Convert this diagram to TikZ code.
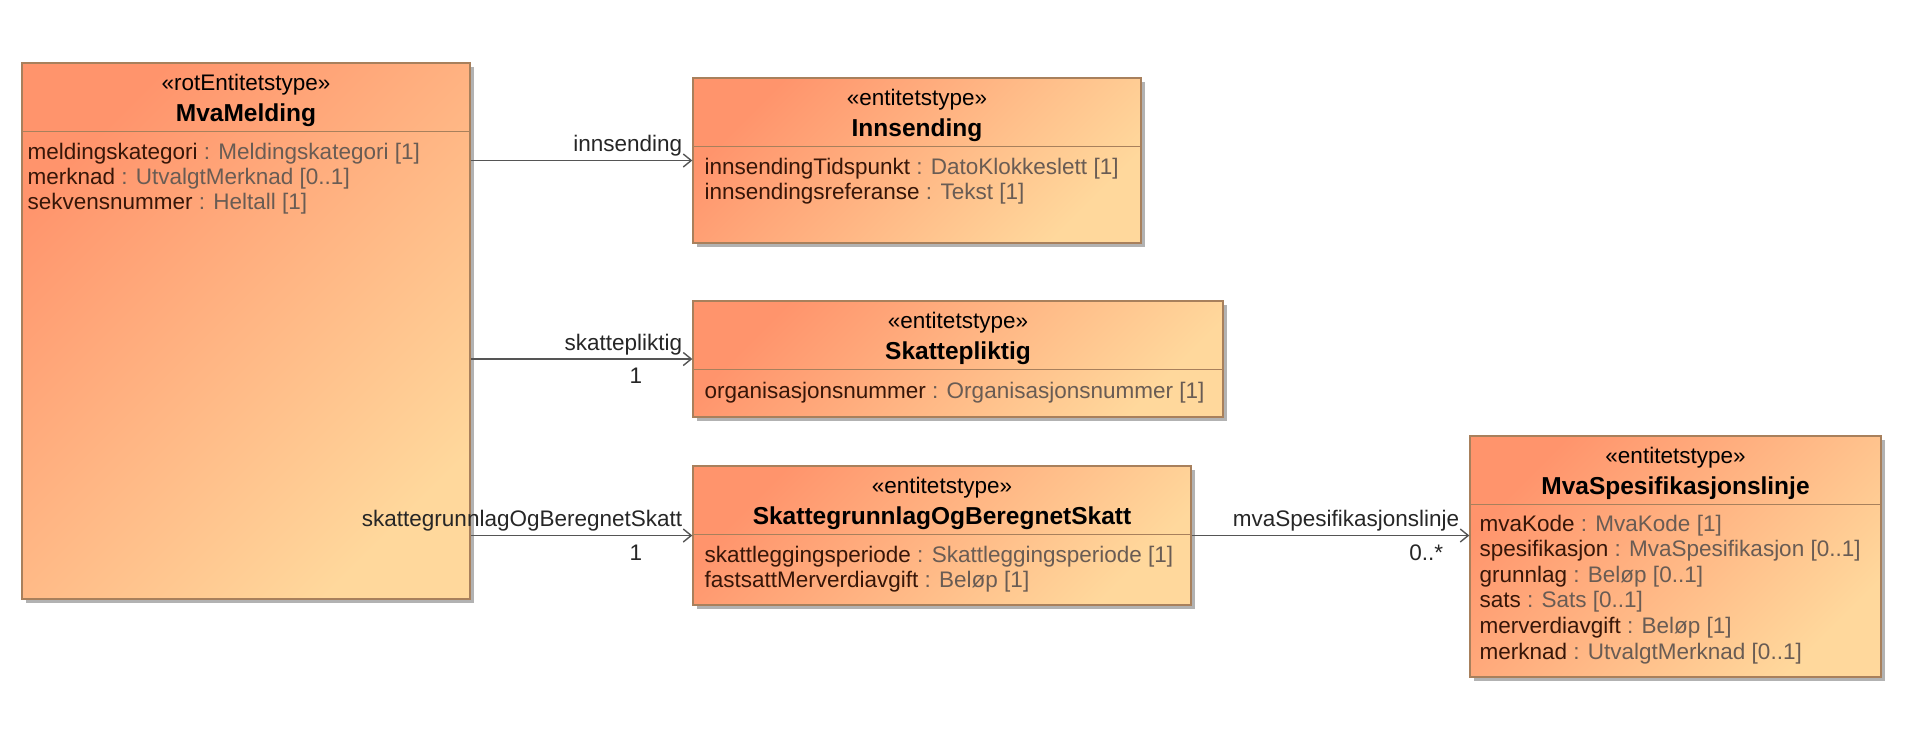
\documentclass[tikz,border=0pt]{standalone}
\usepackage{fontspec}
\setmainfont{Liberation Sans}
\usetikzlibrary{calc}
\usetikzlibrary{arrows.meta}
\usetikzlibrary{shadows}

\definecolor{boxdark}{RGB}{255,148,108}
\definecolor{boxlight}{RGB}{255,216,156}
\definecolor{boxline}{RGB}{168,128,92}
\definecolor{attrname}{RGB}{55,22,8}
\definecolor{attrtype}{RGB}{105,92,84}
\definecolor{assocline}{RGB}{85,85,85}

\begin{document}
\begin{tikzpicture}[x=1pt,y=-1pt,>={Straight Barb[length=8pt,width=13pt]},
    klasse/.style={draw=boxline,line width=1.3pt,top color=boxdark,bottom color=boxlight,shading angle=45,
      drop shadow={shadow xshift=4pt,shadow yshift=-4pt,fill=black,opacity=.3},inner sep=0pt},
    skille/.style={draw=boxline,line width=1.3pt},
    stereo/.style={inner sep=0pt,font=\fontsize{22.5}{25}\selectfont},
    navn/.style={inner sep=0pt,font=\fontsize{24.5}{27}\selectfont\bfseries},
    attr/.style={anchor=west,inner sep=0pt,text=attrname,font=\fontsize{22.5}{25}\selectfont},
    rolle/.style={inner sep=0pt,text=black!85,font=\fontsize{22.5}{25}\selectfont},
    assoc/.style={draw=assocline,line width=1.4pt,->}]

  \useasboundingbox (0,0) rectangle (1921,736);

  \node(mva) at (246,331) [klasse,minimum width=448pt,minimum height=536pt] {};
  \node(mva-st) at ($(mva.north)+(0,22)$) [stereo] {«rotEntitetstype»};
  \node(mva-nv) at ($(mva.north)+(0,53)$) [navn] {MvaMelding};
  \draw[skille] ($(mva.north west)+(0,69)$) -- ($(mva.north east)+(0,69)$);
  \foreach \n/\t [count=\i] in {meldingskategori/{Meldingskategori [1]},merknad/{UtvalgtMerknad [0..1]},sekvensnummer/{Heltall [1]}}
  {
    \node(mva-a\i) at ($(mva.north west)+(6,{69+22+25*(\i-1)})$) [attr] {\n\ \textcolor{attrtype}{: \t}};
  }

  \node(inns) at (917,160.5) [klasse,minimum width=448pt,minimum height=165pt] {};
  \node(inns-st) at ($(inns.north)+(0,22)$) [stereo] {«entitetstype»};
  \node(inns-nv) at ($(inns.north)+(0,53)$) [navn] {Innsending};
  \draw[skille] ($(inns.north west)+(0,69)$) -- ($(inns.north east)+(0,69)$);
  \foreach \n/\t [count=\i] in {innsendingTidspunkt/{DatoKlokkeslett [1]},innsendingsreferanse/{Tekst [1]}}
  {
    \node(inns-a\i) at ($(inns.north west)+(12,{69+22+25*(\i-1)})$) [attr] {\n\ \textcolor{attrtype}{: \t}};
  }

  \node(skpl) at (958,359) [klasse,minimum width=530pt,minimum height=116pt] {};
  \node(skpl-st) at ($(skpl.north)+(0,22)$) [stereo] {«entitetstype»};
  \node(skpl-nv) at ($(skpl.north)+(0,53)$) [navn] {Skattepliktig};
  \draw[skille] ($(skpl.north west)+(0,69)$) -- ($(skpl.north east)+(0,69)$);
  \node(skpl-a1) at ($(skpl.north west)+(12,92)$) [attr] {organisasjonsnummer\ \textcolor{attrtype}{: Organisasjonsnummer [1]}};

  \node(skatt) at (942,535.5) [klasse,minimum width=498pt,minimum height=139pt] {};
  \node(skatt-st) at ($(skatt.north)+(0,22)$) [stereo] {«entitetstype»};
  \node(skatt-nv) at ($(skatt.north)+(0,53)$) [navn] {SkattegrunnlagOgBeregnetSkatt};
  \draw[skille] ($(skatt.north west)+(0,69)$) -- ($(skatt.north east)+(0,69)$);
  \foreach \n/\t [count=\i] in {skattleggingsperiode/{Skattleggingsperiode [1]},fastsattMerverdiavgift/{Beløp [1]}}
  {
    \node(skatt-a\i) at ($(skatt.north west)+(12,{69+22+25*(\i-1)})$) [attr] {\n\ \textcolor{attrtype}{: \t}};
  }

  \node(spes) at (1675.5,556.5) [klasse,minimum width=411pt,minimum height=241pt] {};
  \node(spes-st) at ($(spes.north)+(0,22)$) [stereo] {«entitetstype»};
  \node(spes-nv) at ($(spes.north)+(0,53)$) [navn] {MvaSpesifikasjonslinje};
  \draw[skille] ($(spes.north west)+(0,69)$) -- ($(spes.north east)+(0,69)$);
  \foreach \n/\t [count=\i] in {mvaKode/{MvaKode [1]},spesifikasjon/{MvaSpesifikasjon [0..1]},grunnlag/{Beløp [0..1]},
    sats/{Sats [0..1]},merverdiavgift/{Beløp [1]},merknad/{UtvalgtMerknad [0..1]}}
  {
    \node(spes-a\i) at ($(spes.north west)+(10,{69+21+25.6*(\i-1)})$) [attr] {\n\ \textcolor{attrtype}{: \t}};
  }

  \draw[assoc] (mva.east |- inns.west) -- (inns.west);
  \node(r-inns) at ($(inns.west)+(-10,-4)$) [rolle,anchor=south east] {innsending};

  \draw[assoc] (mva.east |- skpl.west) -- (skpl.west);
  \node(r-skpl) at ($(skpl.west)+(-10,-4)$) [rolle,anchor=south east] {skattepliktig};
  \node(m-skpl) at ($(skpl.west)+(-50,9)$) [rolle,anchor=north east] {1};

  \draw[assoc] (mva.east |- skatt.west) -- (skatt.west);
  \node(r-skatt) at ($(skatt.west)+(-10,-4)$) [rolle,anchor=south east] {skattegrunnlagOgBeregnetSkatt};
  \node(m-skatt) at ($(skatt.west)+(-50,9)$) [rolle,anchor=north east] {1};

  \coordinate(spes-inn) at (spes.west |- skatt.east);
  \draw[assoc] (skatt.east) -- (spes-inn);
  \node(r-spes) at ($(spes-inn)+(-10,-4)$) [rolle,anchor=south east] {mvaSpesifikasjonslinje};
  \node(m-spes) at ($(spes-inn)+(-26,9)$) [rolle,anchor=north east] {0..*};
\end{tikzpicture}
\end{document}
